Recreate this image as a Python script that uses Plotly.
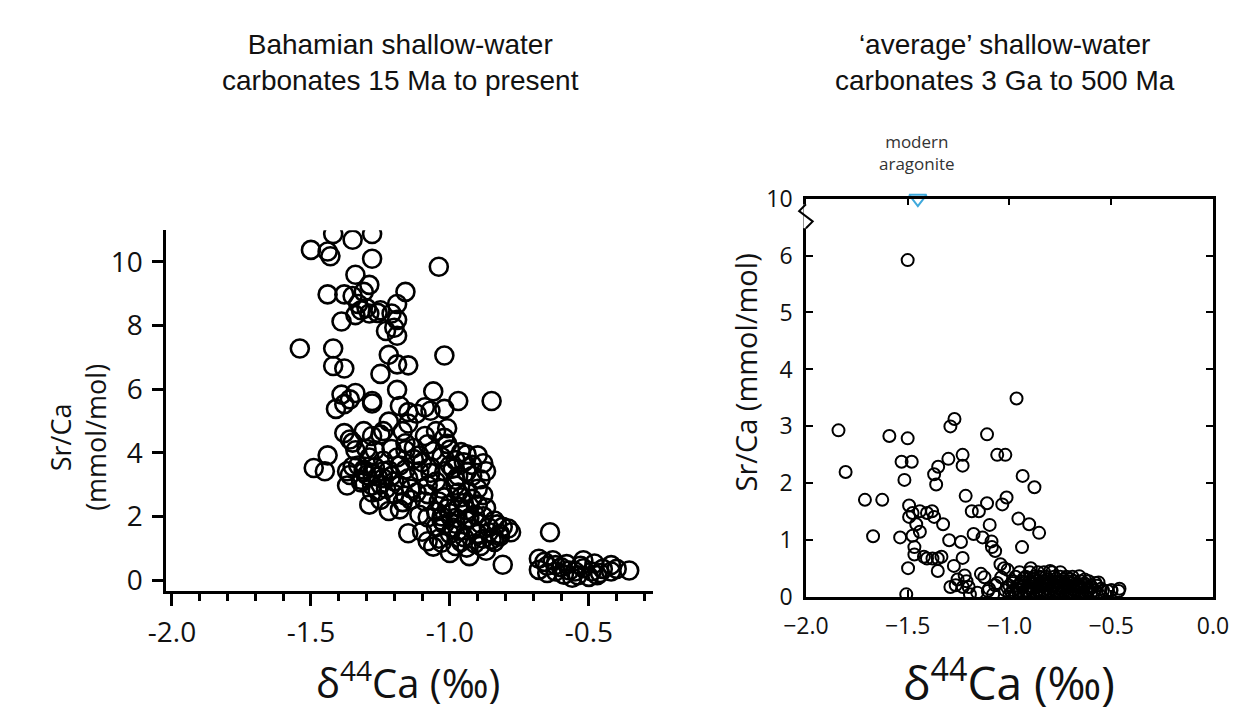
import plotly.graph_objects as go

# ---- Bahamian shallow-water carbonates, 15 Ma to present ----
BAH_D44 = [
    -1.42, -1.35, -1.28, -1.50, -1.44, -1.43, -1.28, -1.04, -1.34, -1.29,
    -1.44, -1.38, -1.35, -1.31, -1.16, -1.19, -1.33, -1.32, -1.29, -1.34,
    -1.25, -1.21, -1.19, -1.39, -1.23, -1.19, -1.20, -1.54, -1.42, -1.02,
    -1.22, -1.19, -1.15, -1.42, -1.38, -1.25, -1.30, -1.26,
    -1.19, -1.06, -0.97, -0.85, -1.39, -1.36, -1.34, -1.28, -1.28, -1.41,
    -1.38, -1.18, -1.15, -1.12, -1.09, -1.07, -1.02, -1.01, -1.15, -1.22,
    -1.17,
    -1.38, -1.36, -1.35, -1.31, -1.28, -1.25, -1.24, -1.09, -1.05, -1.02,
    -1.08, -1.01,
    -0.96, -0.90, -0.88, -0.87, -0.92, -0.98, -1.03, -1.11, -1.16, -1.21,
    -1.27, -1.30, -1.34, -1.44,
    -1.49, -1.45, -1.37, -1.35, -1.31, -1.28, -1.24, -1.21, -1.16, -1.11,
    -1.07, -1.02, -0.97, -0.92, -0.89,
    -1.37, -1.32, -1.28, -1.23, -1.18, -1.14, -1.08, -1.03, -0.98, -0.94,
    -0.90, -0.88,
    -1.29, -1.22, -1.18, -1.25, -1.14, -1.09, -1.04, -1.00, -0.95, -0.90,
    -0.87,
    -1.08, -1.03, -0.98, -0.94, -0.89, -0.84, -0.81, -1.15, -1.10, -1.05,
    -1.08, -1.03, -0.98, -0.94, -0.89, -0.85, -0.82,
    -1.00, -0.98, -1.02, -0.97, -1.00, -0.95, -1.04, -0.92, -0.90, -0.88,
    -0.86, -0.84, -0.82, -0.78, -0.79, -0.91, -0.94, -0.96, -0.92, -0.88,
    -1.00, -0.93, -0.87, -1.06, -0.96, -0.91,
    -1.33, -1.30, -1.27, -1.24, -1.22, -1.25, -1.20, -1.18, -1.15, -1.32,
    -1.10, -1.07, -1.05, -1.00, -0.98, -0.95, -1.08, -1.02, -0.97, -1.12,
    -1.16, -1.20, -1.28, -1.26, -1.36,
    -1.16, -1.13, -1.06, -1.00, -0.94, -0.99, -0.94, -1.13, -1.19, -1.24,
    -1.29,
    -1.01, -0.99, -1.03, -0.97, -1.05, -0.93, -1.11, -1.17, -1.26, -1.31,
    -0.86, -0.83,
    -0.81, -0.64,
    -0.68, -0.66, -0.63, -0.62, -0.68, -0.65, -0.62, -0.59, -0.56, -0.55,
    -0.52, -0.52, -0.49, -0.48, -0.46, -0.42, -0.42, -0.355,
    -0.60, -0.57, -0.54, -0.50, -0.45, -0.40, -0.58, -0.65, -0.53, -0.47,
]
BAH_SRCA = [
    10.88, 10.70, 10.88, 10.38, 10.33, 10.18, 10.10, 9.85, 9.60, 9.28,
    8.98, 8.98, 8.93, 9.06, 9.06, 8.68, 8.68, 8.48, 8.38, 8.33,
    8.48, 8.38, 8.18, 8.13, 7.83, 7.68, 7.93, 7.28, 7.28, 7.06,
    7.08, 6.78, 6.75, 6.73, 6.65, 6.48, 8.55, 8.40,
    5.98, 5.93, 5.63, 5.63, 5.83, 5.68, 5.88, 5.63, 5.55, 5.38,
    5.53, 5.47, 5.28, 5.23, 5.43, 5.32, 5.38, 4.77, 4.92, 4.98,
    4.68,
    4.62, 4.42, 4.32, 4.68, 4.53, 4.57, 4.68, 4.53, 4.68, 4.47,
    4.27, 4.28,
    4.02, 3.92, 3.67, 3.42, 3.62, 3.77, 3.87, 3.92, 4.08, 4.12,
    4.08, 4.12, 4.08, 3.92,
    3.52, 3.42, 3.42, 3.57, 3.47, 3.37, 3.42, 3.27, 3.47, 3.42,
    3.37, 3.42, 3.27, 3.27, 3.17,
    2.97, 3.07, 2.97, 2.87, 2.97, 2.87, 2.97, 2.87, 2.97, 2.77,
    2.87, 2.67,
    2.37, 2.17, 2.22, 2.52, 2.52, 2.47, 2.47, 2.37, 2.42, 2.37,
    2.27,
    1.97, 1.87, 1.77, 1.87, 1.77, 1.87, 1.67, 1.47, 1.52, 1.67,
    1.22, 1.17, 1.07, 1.02, 1.07, 1.27, 1.37,
    2.10, 1.95, 1.75, 1.55, 1.45, 1.35, 1.30, 1.60, 1.45, 1.30,
    1.50, 1.20, 1.45, 1.50, 1.62, 2.05, 2.20, 2.60, 2.55, 2.00,
    0.85, 0.75, 0.92, 1.05, 1.20, 1.15,
    3.60, 3.30, 3.55, 3.20, 3.45, 3.00, 3.10, 3.60, 3.20, 3.15,
    3.70, 3.55, 3.10, 3.60, 3.15, 3.70, 2.70, 2.60, 2.75, 2.75,
    2.65, 2.70, 2.75, 3.25, 3.30,
    4.30, 4.15, 4.05, 4.10, 3.95, 3.50, 3.40, 3.80, 3.85, 3.75,
    3.85,
    2.25, 1.65, 2.00, 2.30, 2.15, 1.95, 2.05, 2.45, 2.80, 3.40,
    1.65, 1.75,
    0.48, 1.50,
    0.67, 0.57, 0.62, 0.47, 0.32, 0.22, 0.27, 0.17, 0.07, 0.27,
    0.62, 0.37, 0.27, 0.52, 0.22, 0.47, 0.27, 0.30,
    0.40, 0.30, 0.15, 0.10, 0.35, 0.35, 0.50, 0.45, 0.45, 0.15,
]

# ---- 'average' shallow-water carbonates, 3 Ga to 500 Ma ----
AVG_D44 = [
    -1.50, -0.965, -1.84, -1.59, -1.50, -1.27, -1.29, -1.11, -1.53, -1.48,
    -1.35, -1.37, -1.36, -1.30, -1.23, -1.23, -1.06, -1.02, -0.935, -0.877,
    -1.805, -1.516, -1.71, -1.625, -1.215, -1.014, -1.11, -1.035, -1.493, -1.476,
    -1.44, -1.405, -1.38, -1.493, -1.185, -1.15, -1.37, -1.326, -0.956, -0.903,
    -0.854, -1.097, -1.67, -1.537, -1.458, -1.44, -1.476, -1.467, -1.467, -1.42,
    -1.405, -1.378, -1.352, -1.334, -1.296, -1.238, -1.176, -1.132, -1.088, -0.938,
    -1.23, -1.273, -1.352, -1.498, -1.07, -1.044, -1.026, -1.009, -1.14, -1.123,
    -1.22, -1.211, -1.29, -1.264, -1.229, -1.20, -1.255, -1.507, -1.158, -1.194,
    -1.106, -1.07, -1.086, -0.895, -0.80, -0.657, -0.562, -0.498, -0.459, -0.577,
    -0.516, -0.463, -0.63,
    -1.00, -0.97, -0.93, -0.90, -0.87, -0.84, -0.81, -0.78, -0.75, -0.72,
    -0.69, -0.66, -0.63, -0.60, -0.56,
    -1.02, -0.98, -0.95, -0.92, -0.89, -0.86, -0.83, -0.80, -0.77, -0.74,
    -0.71, -0.68, -0.65, -0.62, -0.58, -0.54, -0.50,
    -1.00, -0.96, -0.93, -0.90, -0.86, -0.83, -0.79, -0.76, -0.73, -0.70,
    -0.67, -0.63, -0.60, -0.57,
    -0.98, -0.94, -0.90, -0.87, -0.84, -0.80, -0.77, -0.74, -0.71, -0.68,
    -0.65, -0.61,
    -0.97, -0.92, -0.88, -0.85, -0.82, -0.78, -0.75, -0.72, -0.69,
    -0.95, -0.90, -0.86, -0.83, -0.79, -0.75,
    -1.08, -1.10, -1.06, -1.04,
    -0.99, -0.955, -0.915, -0.885, -0.855, -0.825, -0.795, -0.765, -0.735,
    -0.705, -0.675, -0.645, -0.615, -0.585,
    -1.01, -0.965, -0.935, -0.895, -0.865, -0.815, -0.785, -0.745, -0.715,
    -0.685, -0.655, -0.62, -0.595, -0.55,
    -0.985, -0.945, -0.905, -0.875, -0.835, -0.805, -0.765, -0.725, -0.695,
    -0.66, -0.63,
    -0.93, -0.885, -0.845, -0.81, -0.77, -0.735, -0.70,
]
AVG_SRCA = [
    5.92, 3.49, 2.93, 2.83, 2.79, 3.13, 3.00, 2.86, 2.38, 2.38,
    2.29, 2.16, 1.98, 2.43, 2.50, 2.31, 2.50, 2.50, 2.13, 1.93,
    2.20, 2.06, 1.71, 1.71, 1.78, 1.75, 1.65, 1.63, 1.61, 1.48,
    1.51, 1.48, 1.51, 1.41, 1.51, 1.51, 1.41, 1.28, 1.38, 1.28,
    1.13, 1.27, 1.07, 1.05, 1.28, 1.15, 1.08, 0.88, 0.75, 0.71,
    0.68, 0.68, 0.68, 0.71, 1.00, 0.97, 1.11, 1.05, 0.98, 0.88,
    0.69, 0.55, 0.46, 0.51, 0.81, 0.58, 0.51, 0.48, 0.41, 0.35,
    0.38, 0.28, 0.18, 0.21, 0.18, 0.18, 0.31, 0.05, 0.08, 0.05,
    0.11, 0.21, 0.88, 0.51, 0.46, 0.37, 0.26, 0.12, 0.15, 0.25,
    0.11, 0.11, 0.31,
    0.05, 0.05, 0.05, 0.05, 0.05, 0.05, 0.05, 0.05, 0.05, 0.05,
    0.05, 0.05, 0.05, 0.05, 0.05,
    0.12, 0.12, 0.12, 0.12, 0.12, 0.12, 0.12, 0.12, 0.12, 0.12,
    0.12, 0.12, 0.12, 0.12, 0.12, 0.12, 0.12,
    0.20, 0.20, 0.20, 0.20, 0.20, 0.20, 0.20, 0.20, 0.20, 0.20,
    0.20, 0.20, 0.20, 0.20,
    0.28, 0.28, 0.28, 0.28, 0.28, 0.28, 0.28, 0.28, 0.28, 0.28,
    0.28, 0.28,
    0.36, 0.36, 0.36, 0.36, 0.36, 0.36, 0.36, 0.36, 0.36,
    0.44, 0.44, 0.44, 0.44, 0.44, 0.44,
    0.05, 0.15, 0.25, 0.35,
    0.09, 0.07, 0.10, 0.08, 0.09, 0.07, 0.10, 0.08, 0.09,
    0.07, 0.10, 0.08, 0.09, 0.07,
    0.17, 0.15, 0.18, 0.16, 0.17, 0.15, 0.18, 0.16, 0.17,
    0.15, 0.18, 0.16, 0.17, 0.15,
    0.25, 0.24, 0.26, 0.24, 0.25, 0.23, 0.26, 0.24, 0.25,
    0.23, 0.24,
    0.33, 0.32, 0.34, 0.32, 0.33, 0.31, 0.32,
]

# modern aragonite reference value
ARAGONITE_D44 = [-1.45]
ARAGONITE_SRCA = [10]

LEFT_YTICKS = [0, 2, 4, 6, 8, 10]
LEFT_XTICKS = [-2.0, -1.5, -1.0, -0.5]
LEFT_XTICKTEXT = ["-2.0", "-1.5", "-1.0", "-0.5"]
RIGHT_YTICKS = [0, 1, 2, 3, 4, 5, 6, 10]
RIGHT_XTICKS = [-2.0, -1.5, -1.0, -0.5, 0.0]

# broken y axis on the right panel: values above BREAK_AT are compressed
BREAK_AT = 6.6
AXIS_TOP = 7.0


def broken(v):
    if v <= BREAK_AT:
        return v
    return BREAK_AT + (v - BREAK_AT) * (AXIS_TOP - BREAK_AT) / (10 - BREAK_AT)


W, H = 1257, 725


def px_x(p):
    return p / W


def px_y(p):
    return 1 - p / H


TICK_FONT = "Open Sans, Noto Sans, sans-serif"
TITLE_FONT = "Liberation Sans, Arial, sans-serif"

left_dom_x = [px_x(148), px_x(650)]
left_dom_y = [px_y(601), px_y(223)]
right_dom_x = [px_x(808), px_x(1228)]
right_dom_y = [px_y(607), px_y(190)]

fig = go.Figure()

fig.add_trace(go.Scatter(
    x=BAH_D44, y=BAH_SRCA, mode="markers", xaxis="x", yaxis="y",
    marker=dict(symbol="circle-open", size=18, color="black",
                line=dict(width=2.6, color="black")),
    showlegend=False, hoverinfo="x+y",
))

fig.add_trace(go.Scatter(
    x=AVG_D44, y=[broken(v) for v in AVG_SRCA], mode="markers",
    xaxis="x2", yaxis="y2",
    marker=dict(symbol="circle-open", size=12, color="black",
                line=dict(width=2, color="black")),
    showlegend=False, hoverinfo="x",
))

fig.add_trace(go.Scatter(
    x=ARAGONITE_D44, y=[broken(v) for v in ARAGONITE_SRCA], mode="markers",
    xaxis="x2", yaxis="y2", cliponaxis=False,
    marker=dict(symbol="triangle-down-open", size=15, color="#3fa9dc",
                line=dict(width=2, color="#3fa9dc")),
    showlegend=False, hoverinfo="x",
))

fig.update_layout(
    width=W, height=H,
    margin=dict(l=0, r=0, t=0, b=0),
    paper_bgcolor="white", plot_bgcolor="white",
    xaxis=dict(
        domain=left_dom_x, range=[-2.02, -0.27], anchor="y",
        showgrid=False, zeroline=False, showline=True,
        linecolor="black", linewidth=3,
        tickmode="array", tickvals=LEFT_XTICKS, ticktext=LEFT_XTICKTEXT,
        ticks="outside", ticklen=12, tickwidth=2.6, tickcolor="black",
        ticklabelstandoff=2,
        minor=dict(dtick=0.1, tick0=-2.0, ticks="outside", ticklen=7,
                   tickwidth=2.6, tickcolor="black", showgrid=False),
        tickfont=dict(family=TICK_FONT, size=28, color="#111"),
    ),
    yaxis=dict(
        domain=left_dom_y, range=[-0.36, 11.0], anchor="x",
        showgrid=False, zeroline=False, showline=True,
        linecolor="black", linewidth=3,
        tickmode="array", tickvals=LEFT_YTICKS,
        ticks="outside", ticklen=11, tickwidth=2.6, tickcolor="black",
        ticklabelstandoff=4,
        tickfont=dict(family=TICK_FONT, size=28, color="#111"),
    ),
    xaxis2=dict(
        domain=right_dom_x, range=[-2.0, 0.0], anchor="y2",
        showgrid=False, zeroline=False, showline=True, mirror="ticks",
        linecolor="black", linewidth=2.5,
        tickmode="array", tickvals=RIGHT_XTICKS, tickformat=".1f",
        ticks="inside", ticklen=7, tickwidth=2, tickcolor="black",
        ticklabelstandoff=6,
        tickfont=dict(family=TICK_FONT, size=23, color="#111"),
    ),
    yaxis2=dict(
        domain=right_dom_y, range=[0, AXIS_TOP], anchor="x2",
        showgrid=False, zeroline=False, showline=True, mirror="ticks",
        linecolor="black", linewidth=2.5,
        tickmode="array", tickvals=[broken(v) for v in RIGHT_YTICKS],
        ticktext=[str(v) for v in RIGHT_YTICKS],
        ticks="inside", ticklen=7, tickwidth=2, tickcolor="black",
        ticklabelstandoff=6,
        tickfont=dict(family=TICK_FONT, size=23, color="#111"),
    ),
)

annotations = [
    dict(text="Bahamian shallow-water<br>carbonates 15 Ma to present",
         x=px_x(390), y=px_y(48), xanchor="center", yanchor="middle",
         font=dict(family=TITLE_FONT, size=28, color="#111")),
    dict(text="\u2018average\u2019 shallow-water<br>carbonates 3 Ga to 500 Ma",
         x=px_x(1013), y=px_y(48), xanchor="center", yanchor="middle",
         font=dict(family=TITLE_FONT, size=28, color="#111")),
    dict(text="Sr/Ca<br>(mmol/mol)", textangle=-90,
         x=px_x(56), y=px_y(440), xanchor="center", yanchor="middle",
         font=dict(family=TICK_FONT, size=27, color="#111")),
    dict(text="Sr/Ca (mmol/mol)", textangle=-90,
         x=px_x(746), y=px_y(372), xanchor="center", yanchor="middle",
         font=dict(family=TICK_FONT, size=29, color="#111")),
    dict(text="\u03b4<sup>44</sup>Ca (\u2030)",
         x=px_x(397), y=px_y(694), xanchor="center", yanchor="middle",
         font=dict(family=TICK_FONT, size=40, color="#111")),
    dict(text="\u03b4<sup>44</sup>Ca (\u2030)",
         x=px_x(1018), y=px_y(694), xanchor="center", yanchor="middle",
         font=dict(family=TICK_FONT, size=46, color="#111")),
    dict(text="modern<br>aragonite",
         x=px_x(923), y=px_y(142), xanchor="center", yanchor="middle",
         font=dict(family=TICK_FONT, size=17, color="#333")),
]
for a in annotations:
    a.update(xref="paper", yref="paper", showarrow=False)
fig.update_layout(annotations=annotations)

# axis-break zigzag on the right panel's y axis
ax_x = right_dom_x[0]
y_span = right_dom_y[1] - right_dom_y[0]


def yb(v):
    return right_dom_y[0] + v / AXIS_TOP * y_span


dx = 7 / W
fig.update_layout(shapes=[
    dict(type="line", xref="paper", yref="paper",
         x0=ax_x, x1=ax_x, y0=yb(6.48), y1=yb(6.9),
         line=dict(color="white", width=5)),
    dict(type="path", xref="paper", yref="paper",
         path=(f"M {ax_x} {yb(6.9)} L {ax_x - dx} {yb(6.78)} "
               f"L {ax_x + dx} {yb(6.6)} L {ax_x} {yb(6.48)}"),
         line=dict(color="black", width=2)),
])

fig.write_html("out.html")
